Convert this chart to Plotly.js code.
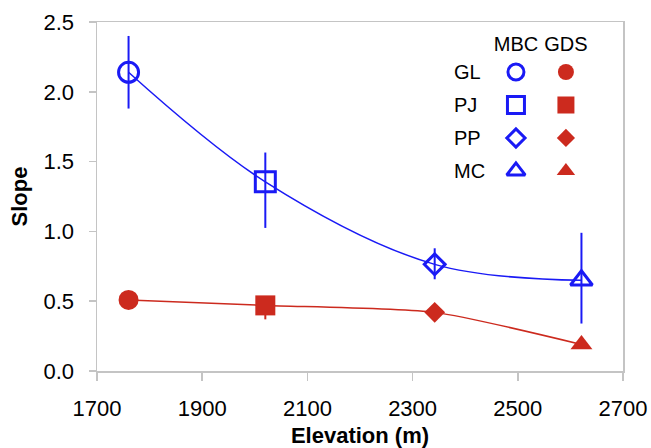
<!DOCTYPE html>
<html>
<head>
<meta charset="utf-8">
<script src="https://cdn.plot.ly/plotly-3.0.1.min.js"></script>
<style>html,body{margin:0;padding:0;background:#fff;}#chart{width:651px;height:448px;}</style>
</head>
<body>
<div id="chart"></div>
<script>
// ---- data ----
var sites = ['GL', 'PJ', 'PP', 'MC'];
var methods = ['MBC', 'GDS'];
var elevation = [1760, 2020, 2342, 2621];
var mbcSlope = [2.14, 1.355, 0.764, 0.65];
var mbcErrPlus = [0.26, 0.21, 0.115, 0.34];
var mbcErrMinus = [0.26, 0.33, 0.107, 0.31];
var gdsSlope = [0.509, 0.47, 0.42, 0.19];
var gdsErrPlus = [0.0, 0.0, 0.0, 0.0];
var gdsErrMinus = [0.0, 0.1, 0.0, 0.0];
var openSymbols = ['circle-open', 'square-open', 'diamond-open', 'triangle-up-open'];
var filledSymbols = ['circle', 'square', 'diamond', 'triangle-up'];

var BLUE = '#1a1af5';
var RED = '#cc2a1e';
var FONT = 'Liberation Sans, Arial, sans-serif';

var mainSizes = [20, 20, 16, 19];
var legendSizes = [16, 17, 14, 16];

var traces = [
  {
    x: elevation, y: mbcSlope, type: 'scatter', mode: 'lines+markers',
    line: {color: BLUE, width: 1.5, shape: 'spline', smoothing: 1},
    marker: {symbol: openSymbols, size: mainSizes, color: BLUE, opacity: 1, line: {color: BLUE, width: 3}},
    error_y: {type: 'data', symmetric: false, array: mbcErrPlus, arrayminus: mbcErrMinus, color: BLUE, thickness: 2, width: 0},
    opacity: 1, showlegend: false, hoverinfo: 'none'
  },
  {
    x: elevation, y: gdsSlope, type: 'scatter', mode: 'lines+markers',
    line: {color: RED, width: 1.5, shape: 'spline', smoothing: 0.6},
    marker: {symbol: filledSymbols, size: mainSizes, color: RED, opacity: 1, line: {width: 0}},
    error_y: {type: 'data', symmetric: false, array: gdsErrPlus, arrayminus: gdsErrMinus, color: RED, thickness: 2, width: 0},
    opacity: 1, showlegend: false, hoverinfo: 'none'
  },
  // key built from the same categories
  {
    x: sites.map(function(){return methods[0];}), y: sites, type: 'scatter', mode: 'markers',
    xaxis: 'x2', yaxis: 'y2',
    marker: {symbol: openSymbols, size: legendSizes, color: BLUE, opacity: 1, line: {color: BLUE, width: 3}},
    opacity: 1, showlegend: false, hoverinfo: 'none'
  },
  {
    x: sites.map(function(){return methods[1];}), y: sites, type: 'scatter', mode: 'markers',
    xaxis: 'x2', yaxis: 'y2',
    marker: {symbol: filledSymbols, size: legendSizes, color: RED, opacity: 1, line: {width: 0}},
    opacity: 1, showlegend: false, hoverinfo: 'none'
  }
];

var rowLabels = sites.map(function(s) {
  return {
    text: s, xref: 'paper', yref: 'y2', x: 0.675, y: s,
    xanchor: 'left', yanchor: 'middle', showarrow: false,
    font: {size: 20, family: FONT, color: '#000'}
  };
});

var layout = {
  width: 651, height: 448,
  margin: {l: 97, r: 28, t: 22, b: 77, pad: 0},
  paper_bgcolor: '#ffffff', plot_bgcolor: '#ffffff',
  font: {family: FONT, color: '#000', size: 22},
  showlegend: false,
  annotations: rowLabels,
  xaxis: {
    range: [1700, 2700], tickvals: [1700, 1900, 2100, 2300, 2500, 2700],
    ticks: 'outside', ticklen: 8, tickwidth: 1.5, tickcolor: '#c4c4c4',
    showline: true, linecolor: '#c4c4c4', linewidth: 1.5, mirror: true,
    showgrid: false, zeroline: false,
    tickfont: {size: 22, family: FONT}, ticklabelstandoff: 9,
    title: {text: '<b>Elevation (m)</b>', font: {size: 22, family: FONT}, standoff: 7},
    automargin: false
  },
  yaxis: {
    range: [0, 2.5], tickvals: [0, 0.5, 1, 1.5, 2, 2.5], ticktext: ['0.0', '0.5', '1.0', '1.5', '2.0', '2.5'],
    ticks: 'outside', ticklen: 7, tickwidth: 1.5, tickcolor: '#c4c4c4',
    showline: true, linecolor: '#c4c4c4', linewidth: 1.5, mirror: true,
    showgrid: false, zeroline: false,
    tickfont: {size: 22, family: FONT}, ticklabelstandoff: 10,
    title: {text: '<b>Slope</b>', font: {size: 22, family: FONT}, standoff: 10},
    automargin: false
  },
  xaxis2: {
    domain: [0.749, 0.939], anchor: 'y2', side: 'top', type: 'category',
    categoryorder: 'array', categoryarray: methods, range: [-0.5, 1.5],
    showline: false, showgrid: false, zeroline: false, ticks: '', ticklabelstandoff: 0,
    tickfont: {size: 20, family: FONT}, fixedrange: true
  },
  yaxis2: {
    domain: [0.526, 0.904], anchor: 'x2', type: 'category',
    categoryorder: 'array', categoryarray: sites, range: [3.5, -0.5],
    showline: false, showgrid: false, zeroline: false, ticks: '', showticklabels: false,
    fixedrange: true
  }
};

Plotly.newPlot('chart', traces, layout, {staticPlot: true, displayModeBar: false});
</script>
</body>
</html>
